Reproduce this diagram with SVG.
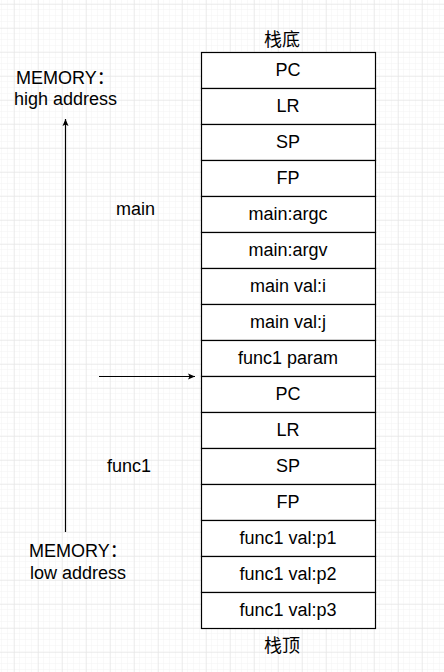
<svg xmlns="http://www.w3.org/2000/svg" width="444" height="672" viewBox="0 0 444 672">
<style>
text{font-family:"Liberation Sans","Noto Sans CJK SC",sans-serif;font-size:18px;fill:#000}
.c{text-anchor:middle;dominant-baseline:central}
.cell{fill:#fff;stroke:#000;stroke-width:1.2}
.ln{stroke:#000;stroke-width:1.2;fill:none}
</style>
<defs>
<pattern id="minor" x="2" y="4" width="6" height="6" patternUnits="userSpaceOnUse">
<path d="M6 0V6M0 6H6" stroke="#f3f3f3" stroke-width="1" fill="none"/>
</pattern>
<pattern id="major" x="14" y="4" width="24" height="24" patternUnits="userSpaceOnUse">
<path d="M0 0V24M0 0H24" stroke="#e2e2e2" stroke-width="1" fill="none"/>
</pattern>
<marker id="ah" markerWidth="8" markerHeight="8" refX="7" refY="4" orient="auto" markerUnits="userSpaceOnUse">
<path d="M0 1L7 4L0 7L1.5 4Z" fill="#000"/>
</marker>
</defs>
<rect width="444" height="672" fill="#fff"/>
<rect width="444" height="672" fill="url(#minor)"/>
<rect width="444" height="672" fill="url(#major)"/>
<g id="connectors">
<line class="ln" x1="65.5" y1="532" x2="65.5" y2="119" marker-end="url(#ah)"/>
<line class="ln" x1="99" y1="376.5" x2="195" y2="376.5" marker-end="url(#ah)"/>
</g>
<g id="stack">
<g id="n1"><rect class="cell" x="201.5" y="52.5" width="174" height="36"/><text class="c" x="288" y="69.5">PC</text></g>
<g id="n2"><rect class="cell" x="201.5" y="88.5" width="174" height="36"/><text class="c" x="288" y="105.5">LR</text></g>
<g id="n3"><rect class="cell" x="201.5" y="124.5" width="174" height="36"/><text class="c" x="288" y="141.5">SP</text></g>
<g id="n4"><rect class="cell" x="201.5" y="160.5" width="174" height="36"/><text class="c" x="288" y="177.5">FP</text></g>
<g id="n5"><rect class="cell" x="201.5" y="196.5" width="174" height="36"/><text class="c" x="288" y="213.5">main:argc</text></g>
<g id="n6"><rect class="cell" x="201.5" y="232.5" width="174" height="36"/><text class="c" x="288" y="249.5">main:argv</text></g>
<g id="n7"><rect class="cell" x="201.5" y="268.5" width="174" height="36"/><text class="c" x="288" y="285.5">main val:i</text></g>
<g id="n8"><rect class="cell" x="201.5" y="304.5" width="174" height="36"/><text class="c" x="288" y="321.5">main val:j</text></g>
<g id="n9"><rect class="cell" x="201.5" y="340.5" width="174" height="36"/><text class="c" x="288" y="357.5">func1 param</text></g>
<g id="n10"><rect class="cell" x="201.5" y="376.5" width="174" height="36"/><text class="c" x="288" y="393.5">PC</text></g>
<g id="n11"><rect class="cell" x="201.5" y="412.5" width="174" height="36"/><text class="c" x="288" y="429.5">LR</text></g>
<g id="n12"><rect class="cell" x="201.5" y="448.5" width="174" height="36"/><text class="c" x="288" y="465.5">SP</text></g>
<g id="n13"><rect class="cell" x="201.5" y="484.5" width="174" height="36"/><text class="c" x="288" y="501.5">FP</text></g>
<g id="n14"><rect class="cell" x="201.5" y="520.5" width="174" height="36"/><text class="c" x="288" y="537.5">func1 val:p1</text></g>
<g id="n15"><rect class="cell" x="201.5" y="556.5" width="174" height="36"/><text class="c" x="288" y="573.5">func1 val:p2</text></g>
<g id="n16"><rect class="cell" x="201.5" y="592.5" width="174" height="36"/><text class="c" x="288" y="609.5">func1 val:p3</text></g>
</g>
<g id="labels">
<text class="c" x="282" y="40">栈底</text>
<text class="c" x="282" y="646">栈顶</text>
<text x="16" y="84">MEMORY：</text>
<text x="14" y="105">high address</text>
<text x="116" y="215">main</text>
<text x="107" y="472">func1</text>
<text x="29" y="557">MEMORY：</text>
<text x="30" y="579">low address</text>
</g>
</svg>
